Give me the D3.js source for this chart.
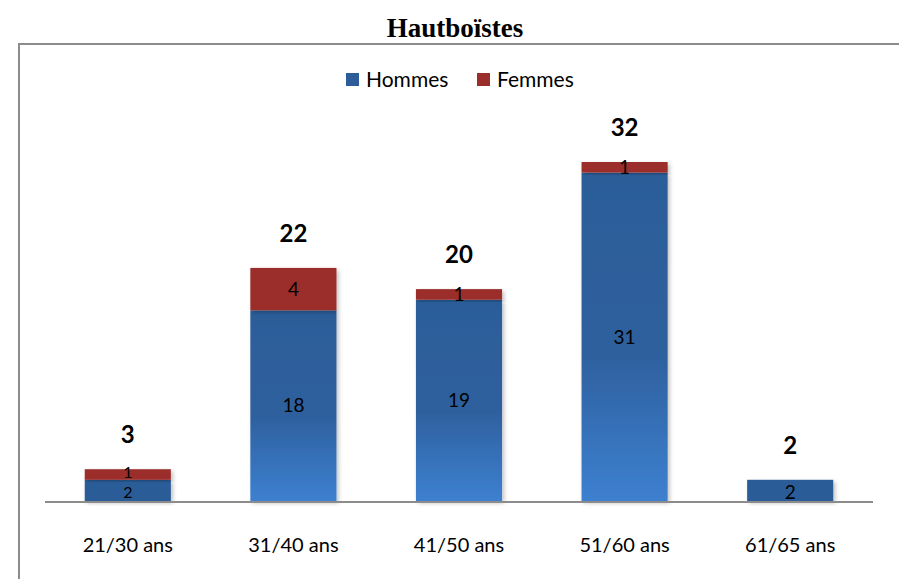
<!DOCTYPE html>
<html>
<head>
<meta charset="utf-8">
<script src="https://cdn.jsdelivr.net/npm/d3@7"></script>
<style>
  body { margin: 0; background: #fff; }
  svg { display: block; }
</style>
</head>
<body>
<div id="chart"></div>
<script>
// data
var categories = ["21/30 ans", "31/40 ans", "41/50 ans", "51/60 ans", "61/65 ans"];
var hommes = [2, 18, 19, 31, 2];
var femmes = [1, 4, 1, 1, 0];
var seriesNames = ["Hommes", "Femmes"];

var W = 899, H = 579;
var colors = {Hommes: "#2c5d98", Femmes: "#9b2d2a"};

var svg = d3.select("#chart").append("svg")
    .attr("width", W)
    .attr("height", H)
    .style("font-family", "Lato, 'Open Sans', sans-serif");

var defs = svg.append("defs");

// gradient on the tall blue bars (lighter at the bottom)
var grad = defs.append("linearGradient")
    .attr("id", "blueGrad")
    .attr("x1", 0).attr("y1", 0).attr("x2", 0).attr("y2", 1);
grad.append("stop").attr("offset", "0%").attr("stop-color", "#2c5d98");
grad.append("stop").attr("offset", "55%").attr("stop-color", "#2e609e");
grad.append("stop").attr("offset", "100%").attr("stop-color", "#3d80d0");

// small drop shadow like the original
var shadow = defs.append("filter").attr("id", "shadow")
    .attr("x", "-10%").attr("y", "-10%").attr("width", "130%").attr("height", "130%");
shadow.append("feDropShadow")
    .attr("dx", 2).attr("dy", 2).attr("stdDeviation", 2)
    .attr("flood-color", "#000").attr("flood-opacity", 0.25);

// outer frame (only top and left edges are visible)
svg.append("path")
    .attr("d", "M19," + (H + 5) + "V44H" + (W + 5))
    .attr("fill", "none")
    .attr("stroke", "#8c8c8c")
    .attr("stroke-width", 2);

// title
svg.append("text")
    .attr("x", 455)
    .attr("y", 37)
    .attr("text-anchor", "middle")
    .style("font-family", "'Liberation Serif', serif")
    .style("font-weight", "bold")
    .style("font-size", "27px")
    .text("Hautboïstes");

// scales
var x = d3.scaleBand()
    .domain(categories)
    .range([45, 873])
    .paddingInner(0.48)
    .paddingOuter(0.24);

var y = d3.scaleLinear()
    .domain([0, 32])
    .range([501, 162]);

var rows = categories.map(function(c, i) {
    return {cat: c, Hommes: hommes[i], Femmes: femmes[i]};
});
var stacked = d3.stack().keys(seriesNames)(rows);

// bars
var g = svg.append("g");
stacked.forEach(function(layer) {
    var key = layer.key;
    g.selectAll(".bar-" + key)
        .data(layer.filter(function(d) { return d[1] - d[0] > 0; }))
        .enter().append("rect")
        .attr("class", "bar-" + key)
        .attr("x", function(d) { return x(d.data.cat); })
        .attr("y", function(d) { return y(d[1]); })
        .attr("width", x.bandwidth())
        .attr("height", function(d) { return y(d[0]) - y(d[1]); })
        .attr("fill", function(d) {
            if (key === "Hommes" && d[1] - d[0] > 5) return "url(#blueGrad)";
            return colors[key];
        })
        .attr("filter", "url(#shadow)");
});

// axis line
svg.append("line")
    .attr("x1", x.range()[0]).attr("x2", x.range()[1])
    .attr("y1", y(0) + 1).attr("y2", y(0) + 1)
    .attr("stroke", "#8c8c8c")
    .attr("stroke-width", 2);

// segment labels
// when both segments of a bar are thin, the labels get a bit smaller and pushed apart
function cramped(d) {
    return (y(0) - y(d.data.Hommes + d.data.Femmes)) < 40 && d.data.Femmes > 0;
}
stacked.forEach(function(layer) {
    g.selectAll(".lbl-" + layer.key)
        .data(layer.filter(function(d) { return d[1] - d[0] > 0; }))
        .enter().append("text")
        .attr("x", function(d) { return x(d.data.cat) + x.bandwidth() / 2; })
        .attr("y", function(d) {
            var mid = (y(d[0]) + y(d[1])) / 2;
            if (cramped(d)) mid += (layer.key === "Hommes" ? 2 : -2);
            else if (y(d[0]) - y(d[1]) < 25 && layer.key === "Hommes") mid += 2;
            return mid;
        })
        .attr("dy", "0.36em")
        .attr("text-anchor", "middle")
        .style("font-size", function(d) { return cramped(d) ? "16px" : "19px"; })
        .attr("fill", "#000")
        .text(function(d) { return d[1] - d[0]; });
});

// totals
g.selectAll(".total")
    .data(rows)
    .enter().append("text")
    .attr("class", "total")
    .attr("x", function(d) { return x(d.cat) + x.bandwidth() / 2; })
    .attr("y", function(d) { return y(d.Hommes + d.Femmes) - 26; })
    .attr("text-anchor", "middle")
    .style("font-size", "24px")
    .style("font-weight", "bold")
    .text(function(d) { return d.Hommes + d.Femmes; });

// category labels
svg.append("g")
    .selectAll("text")
    .data(categories)
    .enter().append("text")
    .attr("x", function(d) { return x(d) + x.bandwidth() / 2; })
    .attr("y", 552)
    .attr("text-anchor", "middle")
    .style("font-size", "20px")
    .text(function(d) { return d; });

// legend
var legend = svg.append("g");
var legX = [346, 477];
seriesNames.forEach(function(name, i) {
    legend.append("rect")
        .attr("x", legX[i]).attr("y", 73)
        .attr("width", 13).attr("height", 13)
        .attr("fill", colors[name]);
    legend.append("text")
        .attr("x", legX[i] + 20).attr("y", 87)
        .style("font-size", "21px")
        .text(name);
});
</script>
</body>
</html>
